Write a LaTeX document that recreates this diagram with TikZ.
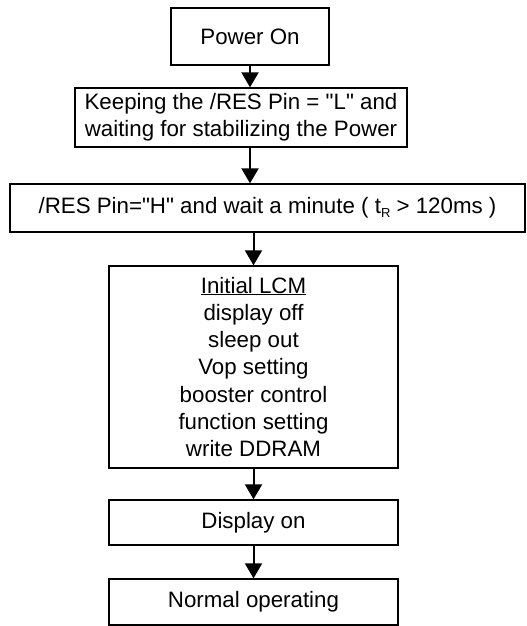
\documentclass[tikz,border=0pt]{standalone}
\usepackage{fontspec}
\setmainfont{Liberation Sans}[Ligatures=TeXOff]
\usetikzlibrary{arrows.meta}
\newcommand{\subR}{\raisebox{-4pt}{\fontsize{13}{13}\selectfont R}}
\begin{document}
\begin{tikzpicture}[x=1pt,y=-1pt,
  box/.style={draw=black,line width=1.3pt,inner sep=0pt,align=center,
    font=\fontsize{22.3}{27.3}\selectfont},
  arr/.style={line width=2pt,-{Triangle[width=17pt,length=15pt]}}]
\useasboundingbox (0,0) rectangle (527,626);
\node[box,minimum width=158pt,minimum height=57pt] (b1) at (250,36.5) {Power On};
\node[box,minimum width=332pt,minimum height=59pt] (b2) at (241,117.5)
  {Keeping the /RES Pin = "L" and\\waiting for stabilizing the Power};
\node[box,minimum width=515pt,minimum height=48pt] (b3) at (267.5,208)
  {/RES Pin="H" and wait a minute ( t\subR\ > 120ms )};
\node[box,minimum width=289pt,minimum height=202pt] (b4) at (253.5,367)
  {\underline{Initial LCM}\\display off\\sleep out\\Vop setting\\booster control\\function setting\\write DDRAM};
\node[box,minimum width=289pt,minimum height=45pt] (b5) at (253.5,522.5) {Display on};
\node[box,minimum width=289pt,minimum height=46pt] (b6) at (253.5,602) {Normal operating};
\draw[arr] (b1.south) -- (b2.north -| b1.south);
\draw[arr] (b2.south -| b1.south) -- (b3.north -| b1.south);
\draw[arr] (b3.south -| b4.north) -- (b4.north);
\draw[arr] (b4.south) -- (b5.north);
\draw[arr] (b5.south) -- (b6.north);
\end{tikzpicture}
\end{document}
